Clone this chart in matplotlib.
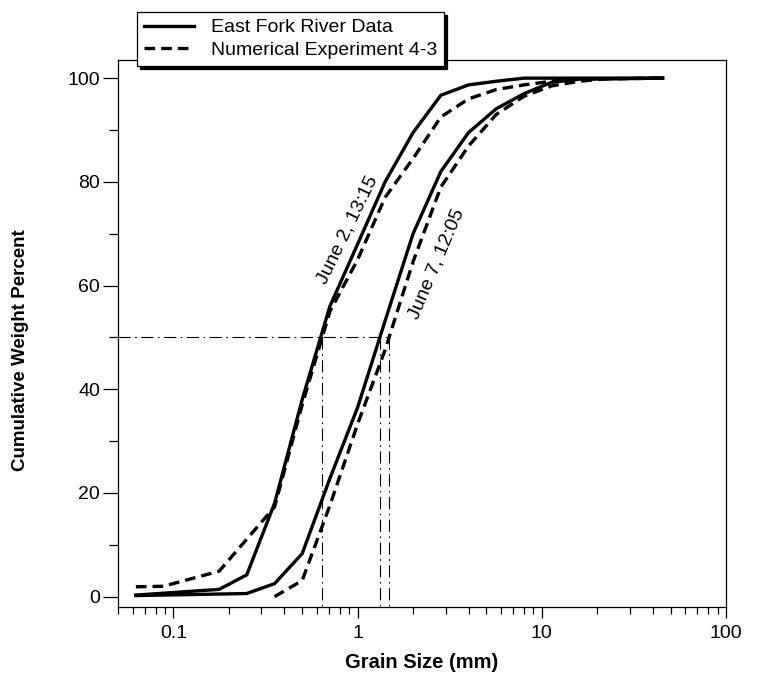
import matplotlib
matplotlib.use("Agg")
import matplotlib.pyplot as plt
from matplotlib.ticker import FixedLocator, FixedFormatter, LogLocator, NullFormatter

# ---------------- data ----------------
# June 2, 13:15 - East Fork River data (solid)
j2_obs_size = [0.0625, 0.177, 0.25, 0.354, 0.5, 0.707, 1.0, 1.41, 2.0, 2.83, 4.0, 5.66, 8.0, 45.3]
j2_obs_pct = [0.3, 1.4, 4.2, 18.0, 38.0, 56.0, 68.0, 80.0, 89.5, 96.7, 98.7, 99.4, 100.0, 100.0]
# June 2, 13:15 - Numerical Experiment 4-3 (dashed)
j2_num_size = [0.0625, 0.088, 0.177, 0.354, 0.5, 0.707, 1.0, 1.41, 2.0, 2.83, 4.0, 5.66, 8.0, 11.3, 16.0, 45.3]
j2_num_pct = [1.9, 2.0, 4.9, 17.3, 37.0, 55.0, 65.0, 77.0, 84.5, 92.5, 96.0, 97.8, 98.7, 99.4, 99.8, 100.0]
# June 7, 12:05 - East Fork River data (solid)
j7_obs_size = [0.0625, 0.25, 0.354, 0.5, 0.707, 1.0, 1.41, 2.0, 2.83, 4.0, 5.66, 8.0, 11.3, 16.0, 45.3]
j7_obs_pct = [0.2, 0.6, 2.5, 8.3, 22.8, 36.5, 53.2, 70.0, 82.0, 89.5, 94.1, 97.0, 99.2, 99.8, 100.0]
# June 7, 12:05 - Numerical Experiment 4-3 (dashed)
j7_num_size = [0.354, 0.5, 0.707, 1.0, 1.41, 2.0, 2.83, 4.0, 5.66, 8.0, 11.3, 16.0, 22.6, 45.3]
j7_num_pct = [0.0, 3.1, 17.6, 33.3, 47.6, 64.6, 79.0, 86.9, 93.0, 96.5, 98.5, 99.4, 99.9, 100.0]

# median (D50) reference lines
d50_level = 50
d50_sizes = [0.64, 1.32, 1.48]

legend_labels = ["East Fork River Data", "Numerical Experiment 4-3"]
curve_labels = ["June 2, 13:15", "June 7, 12:05"]

x_major = [0.1, 1, 10, 100]
x_major_labels = ["0.1", "1", "10", "100"]
y_major = [0, 20, 40, 60, 80, 100]
y_minor = [10, 30, 50, 70, 90]

# ---------------- style ----------------
plt.rcParams["font.family"] = ["Liberation Sans", "DejaVu Sans"]

W, H = 759, 674
fig = plt.figure(figsize=(W / 100, H / 100), dpi=100)
L, R, T, B = 118, 726, 60, 607
ax = fig.add_axes([L / W, 1 - B / H, (R - L) / W, (B - T) / H])

ax.set_xscale("log")
ax.set_xlim(0.05, 100)
ax.set_ylim(-2, 103.5)

lw = 2.4
dash = (0, (3.2, 1.8))
ax.plot(j2_obs_size, j2_obs_pct, color="black", lw=lw, solid_joinstyle="miter",
        label=legend_labels[0], zorder=3)
ax.plot(j2_num_size, j2_num_pct, color="black", lw=lw, linestyle=dash,
        label=legend_labels[1], zorder=3)
ax.plot(j7_obs_size, j7_obs_pct, color="black", lw=lw, solid_joinstyle="miter", zorder=3)
ax.plot(j7_num_size, j7_num_pct, color="black", lw=lw, linestyle=dash, zorder=3)

dashdot = (0, (11, 4, 1.5, 4))
ax.plot([0.05, max(d50_sizes)], [d50_level, d50_level], color="black", lw=0.8,
        linestyle=dashdot, zorder=2)
for s in d50_sizes:
    ax.plot([s, s], [d50_level, -2], color="black", lw=0.8, linestyle=dashdot, zorder=2)

# curve labels
ax.text(0.885, 70.8, curve_labels[0], rotation=64, ha="center", va="center",
        fontsize=14, rotation_mode="anchor")
ax.text(2.70, 64.1, curve_labels[1], rotation=67, ha="center", va="center",
        fontsize=14, rotation_mode="anchor")

# ticks
ax.xaxis.set_major_locator(FixedLocator(x_major))
ax.xaxis.set_major_formatter(FixedFormatter(x_major_labels))
ax.xaxis.set_minor_locator(LogLocator(base=10, subs=range(2, 10)))
ax.xaxis.set_minor_formatter(NullFormatter())
ax.yaxis.set_major_locator(FixedLocator(y_major))
ax.yaxis.set_minor_locator(FixedLocator(y_minor))

ax.tick_params(axis="x", which="major", direction="out", length=8, width=0.9,
               labelsize=14, pad=5, top=False)
ax.tick_params(axis="x", which="minor", direction="out", length=5, width=0.9, top=False)
ax.tick_params(axis="y", which="major", direction="out", length=11, width=0.9,
               labelsize=14, pad=2, right=False)
ax.tick_params(axis="y", which="minor", direction="out", length=6.5, width=0.9, right=False)

for sp in ax.spines.values():
    sp.set_linewidth(0.9)
    sp.set_color("black")

ax.set_xlabel("Grain Size (mm)", fontsize=14.5, fontweight="bold", labelpad=8)
ax.set_ylabel("Cumulative Weight Percent", fontsize=13.5, fontweight="bold")
ax.yaxis.set_label_coords(-0.146, 0.47)

leg = ax.legend(loc="upper left", bbox_to_anchor=(137 / W, 1 - 12 / H),
                bbox_transform=fig.transFigure, fontsize=14, frameon=True,
                fancybox=False, edgecolor="black", framealpha=1, borderpad=0.35,
                labelspacing=0.25, handlelength=2.6, handletextpad=0.85,
                borderaxespad=0,
                shadow={"color": "black", "alpha": 1, "ox": 2.5, "oy": -2.5})
leg.get_frame().set_linewidth(0.9)
leg.set_zorder(10)

fig.savefig("out.png", dpi=100)
